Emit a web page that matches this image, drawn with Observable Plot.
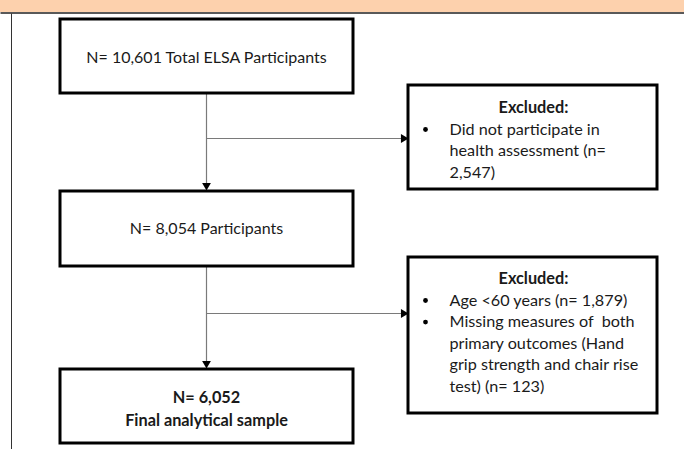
<!DOCTYPE html>
<html><head><meta charset="utf-8">
<script src="https://cdn.jsdelivr.net/npm/d3@7"></script>
<script src="https://cdn.jsdelivr.net/npm/@observablehq/plot@0.6"></script>
<style>
html,body{margin:0;padding:0;background:#fff;}
svg{display:block;}
</style></head><body>
<div id="chart"></div>
<script>
// ---- content (values) ----
const mainLabels = ["N= 10,601 Total ELSA Participants", "N= 8,054 Participants", "N= 6,052", "Final analytical sample"];
const excludedTitle = "Excluded:";
const excl1Lines = ["Did not participate in", "health assessment (n=", "2,547)"];
const excl1Bullets = [0];
const excl2Lines = ["Age <60 years (n= 1,879)", "Missing measures of  both", "primary outcomes (Hand", "grip strength and chair rise", "test) (n= 123)"];
const excl2Bullets = [0, 1];

// ---- layout ----
const mainBoxes = [
  {x1: 60, x2: 353, y1: 19, y2: 93},
  {x1: 60, x2: 353, y1: 191, y2: 266},
  {x1: 60, x2: 353, y1: 369, y2: 443}
];
const sideBoxes = [
  {x1: 408, x2: 657, y1: 85, y2: 189},
  {x1: 408, x2: 657, y1: 257, y2: 413}
];
const cx = 206;
const font = "Lato, 'Open Sans', sans-serif";

const textRows = [
  {x: cx, y: 57, t: mainLabels[0], w: "normal"},
  {x: cx, y: 228, t: mainLabels[1], w: "normal"},
  {x: cx, y: 397, t: mainLabels[2], w: "bold"},
  {x: cx, y: 420, t: mainLabels[3], w: "bold"}
];
const titleRows = [{x: 533, y: 107, t: excludedTitle}, {x: 533, y: 278, t: excludedTitle}];
const lineStep = 21.6;
const bulletRows = [];
excl1Lines.forEach((t, i) => bulletRows.push({x: 449, y: 129 + i * lineStep, t, b: excl1Bullets.includes(i)}));
excl2Lines.forEach((t, i) => bulletRows.push({x: 449, y: 300 + i * lineStep, t, b: excl2Bullets.includes(i)}));

const links = [
  {x1: cx, y1: 93, x2: cx, y2: 183},
  {x1: cx, y1: 266, x2: cx, y2: 361},
  {x1: cx, y1: 138, x2: 401, y2: 138},
  {x1: cx, y1: 313, x2: 401, y2: 313}
];
const heads = [
  {x: cx, y: 185, r: 180},
  {x: cx, y: 363, r: 180},
  {x: 403, y: 138, r: 90},
  {x: 403, y: 313, r: 90}
];

const chart = Plot.plot({
  width: 684, height: 449, margin: 0,
  x: {domain: [0, 684], range: [0, 684], axis: null},
  y: {domain: [0, 449], range: [0, 449], axis: null},
  style: {background: "#fff"},
  marks: [
    Plot.rect([{x1: 0, x2: 684, y1: 0, y2: 12}], {x1: "x1", x2: "x2", y1: "y1", y2: "y2", fill: "#fdd1ad"}),
    Plot.link([{x1: 0, x2: 684, y1: 12.5, y2: 12.5}], {x1: "x1", x2: "x2", y1: "y1", y2: "y2", stroke: "#222", strokeWidth: 1.5}),
    Plot.link([{x1: 11, x2: 11, y1: 13, y2: 449}], {x1: "x1", x2: "x2", y1: "y1", y2: "y2", stroke: "#333", strokeWidth: 1}),
    Plot.link(links, {x1: "x1", y1: "y1", x2: "x2", y2: "y2", stroke: "#7a7a7a", strokeWidth: 1.2}),
    Plot.dot(heads, {x: "x", y: "y", rotate: "r", symbol: "triangle2", r: 4.2, fill: "#000", stroke: "none"}),
    Plot.rect(mainBoxes.concat(sideBoxes), {x1: "x1", x2: "x2", y1: "y1", y2: "y2", fill: "#fff", stroke: "#000", strokeWidth: 3}),
    Plot.text(textRows.filter(d => d.w === "normal"), {x: "x", y: "y", text: "t", fontSize: 16, fontFamily: font, fill: "#1a1a1a", textAnchor: "middle"}),
    Plot.text(textRows.filter(d => d.w === "bold"), {x: "x", y: "y", text: "t", fontSize: 16.3, fontFamily: font, fontWeight: "bold", fill: "#1a1a1a", textAnchor: "middle"}),
    Plot.text(titleRows, {x: "x", y: "y", text: "t", fontSize: 16.3, fontFamily: font, fontWeight: "bold", fill: "#1a1a1a", textAnchor: "middle"}),
    Plot.text(bulletRows, {x: "x", y: "y", text: "t", fontSize: 16.2, fontFamily: font, fill: "#1a1a1a", textAnchor: "start"}),
    Plot.dot(bulletRows.filter(d => d.b), {x: d => 425, y: "y", r: 2.4, fill: "#000", stroke: "none"})
  ]
});
document.getElementById("chart").appendChild(chart);
</script>
</body></html>
